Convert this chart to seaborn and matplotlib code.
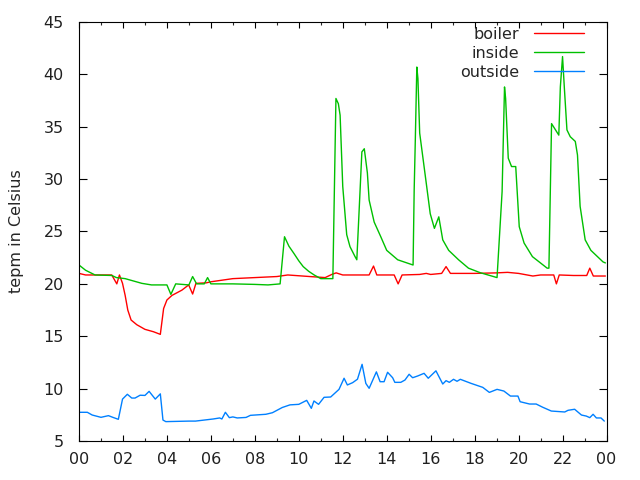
import matplotlib
matplotlib.use('Agg')
import matplotlib.pyplot as plt
import seaborn as sns
import pandas as pd
from matplotlib.ticker import MultipleLocator

# ---------------- data (hours of day, temperature in Celsius) ----------------
boiler_h = [0, 0.3, 1.49, 1.72, 1.84, 1.98, 2.1, 2.22, 2.37, 2.63, 3.0, 3.39, 3.7, 3.85, 4.0, 4.23,
            4.68, 4.99, 5.17, 5.32, 5.8, 6.0, 7.0, 8.0, 9.0, 9.5, 10.5, 11.2, 11.5, 11.7, 12.0,
            13.2, 13.4, 13.55, 14.34, 14.52, 14.7, 15.5, 15.8, 16.0, 16.5, 16.7, 16.9, 18.0,
            19.0, 19.5, 20.0, 20.65, 21.0, 21.6, 21.72, 21.85, 22.5, 23.1, 23.24, 23.4, 23.95]
boiler_t = [21.0, 20.85, 20.85, 20.0, 20.85, 20.05, 18.9, 17.5, 16.55, 16.1, 15.66, 15.43, 15.18,
            17.65, 18.46, 18.9, 19.4, 19.9, 19.03, 20.05, 20.1, 20.2, 20.5, 20.6, 20.7, 20.85,
            20.7, 20.6, 20.9, 21.05, 20.85, 20.85, 21.7, 20.85, 20.85, 20.0, 20.85, 20.9, 21.0,
            20.9, 21.0, 21.65, 21.0, 21.0, 21.05, 21.1, 21.0, 20.75, 20.85, 20.85, 20.0, 20.85,
            20.8, 20.8, 21.5, 20.75, 20.75]

inside_h = [0, 0.3, 0.73, 1.5, 1.7, 2.1, 2.86, 3.3, 4.0, 4.18, 4.4, 5.0, 5.17, 5.35, 5.7, 5.85,
            6.0, 7.0, 8.0, 8.6, 9.15, 9.35, 9.55, 9.78, 10.0, 10.2, 10.45, 10.7, 11.0, 11.55,
            11.69, 11.8, 11.88, 12.0, 12.18, 12.33, 12.56, 12.64, 12.87, 12.98, 13.12, 13.2,
            13.43, 13.73, 14.0, 14.5, 15.2, 15.25, 15.3, 15.37, 15.42, 15.5, 15.6, 15.8, 15.98,
            16.17, 16.37, 16.55, 16.82, 17.27, 17.72, 18.25, 19.02, 19.25, 19.36, 19.41, 19.53,
            19.68, 19.87, 20.03, 20.25, 20.63, 21.3, 21.38, 21.5, 21.83, 21.9, 22.0, 22.08,
            22.2, 22.35, 22.58, 22.68, 22.8, 23.03, 23.29, 23.84, 23.95]
inside_t = [21.8, 21.3, 20.85, 20.8, 20.6, 20.5, 20.05, 19.9, 19.9, 19.0, 20.0, 19.9, 20.7, 20.0,
            20.0, 20.6, 20.0, 20.0, 19.95, 19.9, 20.0, 24.5, 23.6, 22.9, 22.2, 21.65, 21.2,
            20.85, 20.5, 20.5, 37.7, 37.2, 36.1, 29.3, 24.7, 23.55, 22.6, 22.3, 32.6, 32.9,
            30.6, 28.0, 25.9, 24.5, 23.2, 22.3, 21.8, 29.0, 33.6, 40.7, 39.6, 34.4, 32.8, 29.6,
            26.7, 25.3, 26.4, 24.2, 23.2, 22.3, 21.5, 21.07, 20.6, 28.8, 38.8, 37.7, 32.0, 31.2,
            31.2, 25.46, 23.9, 22.6, 21.5, 21.5, 35.3, 34.2, 38.8, 41.7, 38.8, 34.7, 34.05,
            33.6, 32.3, 27.4, 24.2, 23.2, 22.1, 22.0]

outside_h = [0, 0.38, 0.6, 1.0, 1.34, 1.55, 1.79, 1.98, 2.2, 2.4, 2.55, 2.78, 3.0, 3.19, 3.47,
             3.7, 3.82, 3.95, 5.0, 5.3, 5.7, 6.1, 6.4, 6.5, 6.66, 6.84, 7.0, 7.2, 7.6, 7.8, 8.5,
             8.8, 9.25, 9.6, 10.0, 10.36, 10.57, 10.69, 10.9, 11.15, 11.45, 11.83, 12.06, 12.21,
             12.45, 12.67, 12.88, 13.05, 13.2, 13.53, 13.7, 13.88, 14.04, 14.27, 14.37, 14.64,
             14.83, 15.02, 15.18, 15.4, 15.7, 15.89, 16.24, 16.55, 16.7, 16.85, 17.04, 17.2,
             17.35, 17.84, 18.37, 18.67, 19.02, 19.33, 19.63, 19.97, 20.07, 20.5, 20.8, 21.1,
             21.49, 22.1, 22.25, 22.55, 22.86, 23.08, 23.24, 23.39, 23.54, 23.75, 23.9]
outside_t = [7.74, 7.74, 7.48, 7.26, 7.42, 7.25, 7.07, 9.0, 9.46, 9.1, 9.1, 9.37, 9.35, 9.74, 9.0,
             9.5, 7.0, 6.85, 6.9, 6.9, 7.0, 7.1, 7.2, 7.1, 7.74, 7.23, 7.3, 7.2, 7.25, 7.45, 7.55,
             7.7, 8.2, 8.45, 8.5, 8.88, 8.12, 8.82, 8.5, 9.17, 9.2, 9.93, 10.99, 10.35, 10.57,
             10.9, 12.32, 10.5, 10.03, 11.6, 10.66, 10.66, 11.56, 11.04, 10.6, 10.6, 10.82, 11.37,
             11.04, 11.2, 11.46, 10.99, 11.7, 10.44, 10.76, 10.6, 10.89, 10.7, 10.89, 10.5,
             10.12, 9.64, 9.93, 9.77, 9.29, 9.29, 8.75, 8.53, 8.53, 8.22, 7.86, 7.77, 7.93, 8.03,
             7.48, 7.38, 7.23, 7.55, 7.2, 7.2, 6.9]

series_names = ['boiler', 'inside', 'outside']
series_colors = ['#ff0000', '#00c000', '#0080ff']
x_ticks = list(range(0, 25, 2))
x_tick_labels = ['00', '02', '04', '06', '08', '10', '12', '14', '16', '18', '20', '22', '00']
y_ticks = list(range(5, 46, 5))
y_label = 'tepm in Celsius'

# ---------------- plot ----------------
sns.set_style('white')
plt.rcParams['font.family'] = ['DejaVu Sans']

fig = plt.figure(figsize=(6.4, 4.8), dpi=100)
ax = fig.add_axes([79 / 640, 1 - 441 / 480, 527.5 / 640, 419 / 480])

for name, hh, tt, col in zip(series_names, [boiler_h, inside_h, outside_h],
                             [boiler_t, inside_t, outside_t], series_colors):
    df = pd.DataFrame({'hour': hh, 'temp': tt})
    sns.lineplot(data=df, x='hour', y='temp', ax=ax, color=col, linewidth=1.0,
                 label=name, estimator=None, sort=False)

ax.set_xlim(0, 24)
ax.set_ylim(5, 45)
ax.set_xticks(x_ticks)
ax.set_xticklabels(x_tick_labels)
ax.xaxis.set_minor_locator(MultipleLocator(1))
ax.set_yticks(y_ticks)
ax.set_xlabel('')
ax.set_ylabel(y_label, fontsize=11.5)
ax.yaxis.set_label_coords(-0.105, 0.5)

for sp in ax.spines.values():
    sp.set_color('black')
    sp.set_linewidth(0.8)
    sp.set_visible(True)

ax.tick_params(axis='x', which='major', direction='in', length=4.3, width=0.8,
               top=True, bottom=True, labelsize=11.5, pad=8, colors='black')
ax.tick_params(axis='x', which='minor', direction='in', length=2.2, width=0.8,
               top=True, bottom=True)
ax.tick_params(axis='y', which='major', direction='in', length=5.7, width=0.8,
               left=True, right=True, labelsize=11.5, pad=11, colors='black')
for lab in ax.get_xticklabels() + ax.get_yticklabels():
    lab.set_color('#202020')

ax.legend(loc='upper right', bbox_to_anchor=((584 - 79) / 527.5, (441 - 27) / 419),
          frameon=False, markerfirst=False, handlelength=3.1, handletextpad=0.95,
          labelspacing=0.25, borderaxespad=0, borderpad=0, fontsize=11.5)

fig.savefig('out.png', dpi=100, facecolor='white')
